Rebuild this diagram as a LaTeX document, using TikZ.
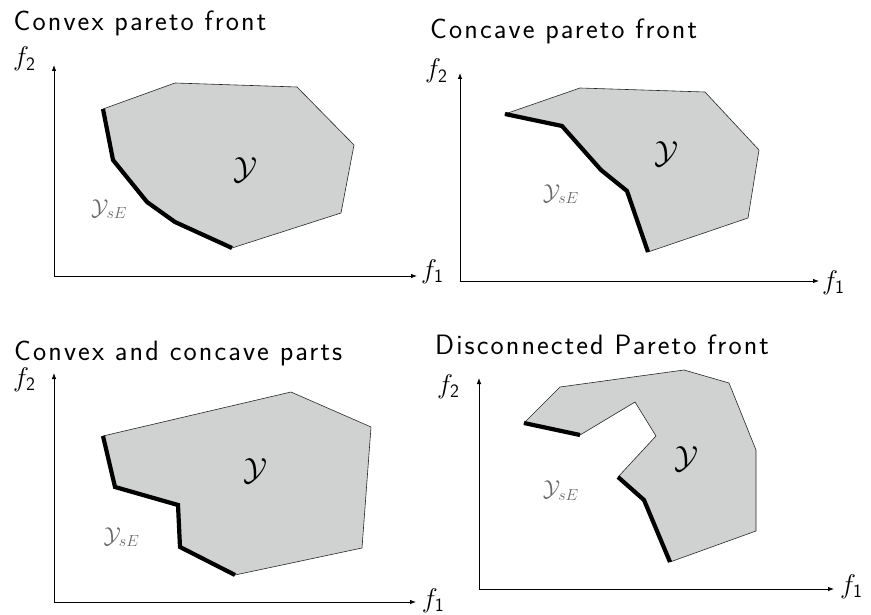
\RequirePackage{fix-cm}
\documentclass[tikz,border=0pt]{standalone}
\usepackage{fontspec}
\newfontfamily\titlefont{Latin Modern Sans}[LetterSpace=7.5]
\usetikzlibrary{arrows.meta}
\definecolor{regfill}{RGB}{208,210,210}
\definecolor{lblgray}{RGB}{105,105,105}
\tikzset{
  axisline/.style={line width=0.8pt, -{Latex[length=6pt,width=4.5pt]}},
  region/.style={fill=regfill, draw=black!85, line width=0.6pt, line join=miter},
  front/.style={line width=4.2pt, line join=miter, line cap=butt},
  ptitle/.style={anchor=base west, inner sep=0pt, font=\titlefont\fontsize{28}{30}\selectfont},
  axlabel/.style={anchor=base west, inner sep=0pt, font=\fontsize{27}{30}\selectfont},
  setlabel/.style={anchor=base, inner sep=0pt, font=\fontsize{32}{34}\selectfont},
  frontlabel/.style={anchor=base west, inner sep=0pt, text=lblgray, font=\fontsize{23}{25}\selectfont},
}
\begin{document}
\begin{tikzpicture}[x=1pt,y=-1pt]
\useasboundingbox (0,0) rectangle (871,615);

% ---------- Panel 1: convex ----------
\node[ptitle] (t1) at (13.5,30.7) {Convex pareto front};
\coordinate (o1) at (54,276);
\coordinate (y1) at (54,65);
\coordinate (x1) at (417,276);
\draw[axisline] (o1) -- (y1);
\draw[axisline] (o1) -- (x1);
\node[axlabel] (f21) at (13,66) {$f_{\mathsf{2}}$};
\node[axlabel] (f11) at (421,278) {$f_{\mathsf{1}}$};
\draw[region] (103,109) -- (175,83) -- (297,87) -- (354,145) -- (341,213) -- (232,248)
  -- (175,222) -- (147,202) -- (113,160) -- cycle;
\draw[front] (232,248) -- (175,222) -- (147,202) -- (113,160) -- (103,109);
\node[setlabel] (Y1) at (246,180) {$\mathcal{Y}$};
\node[frontlabel] (Ys1) at (91,215) {$\mathcal{Y}_{sE}$};

% ---------- Panel 2: concave ----------
\node[ptitle] (t2) at (430,38.3) {Concave pareto front};
\coordinate (o2) at (460,281);
\coordinate (y2) at (460,73);
\coordinate (x2) at (819,281);
\draw[axisline] (o2) -- (y2);
\draw[axisline] (o2) -- (x2);
\node[axlabel] (f22) at (425,78) {$f_{\mathsf{2}}$};
\node[axlabel] (f12) at (822,289) {$f_{\mathsf{1}}$};
\draw[region] (505,114) -- (580,88) -- (705,92) -- (759,150) -- (748,218) -- (648,252)
  -- (627,191) -- (601,170) -- (562,126) -- cycle;
\draw[front] (648,252) -- (627,191) -- (601,170) -- (562,126) -- (505,114);
\node[setlabel] (Y2) at (667,163.5) {$\mathcal{Y}$};
\node[frontlabel] (Ys2) at (542.7,200.3) {$\mathcal{Y}_{sE}$};

% ---------- Panel 3: convex and concave ----------
\node[ptitle] (t3) at (14,360.7) {Convex and concave parts};
\coordinate (o3) at (54,602);
\coordinate (y3) at (54,373);
\coordinate (x3) at (416,602);
\draw[axisline] (o3) -- (y3);
\draw[axisline] (o3) -- (x3);
\node[axlabel] (f23) at (13,386) {$f_{\mathsf{2}}$};
\node[axlabel] (f13) at (421.7,607) {$f_{\mathsf{1}}$};
\draw[region] (103,436) -- (291,392) -- (371,427) -- (362,548) -- (235,575)
  -- (180,547) -- (178,505) -- (115,487) -- cycle;
\draw[front] (235,575) -- (180,547) -- (178,505) -- (115,487) -- (103,436);
\node[setlabel] (Y3) at (256,480) {$\mathcal{Y}$};
\node[frontlabel] (Ys3) at (103.3,543) {$\mathcal{Y}_{sE}$};

% ---------- Panel 4: disconnected ----------
\node[ptitle] (t4) at (435,354.3) {Disconnected Pareto front};
\coordinate (o4) at (479,589);
\coordinate (y4) at (479,378);
\coordinate (x4) at (834,589);
\draw[axisline] (o4) -- (y4);
\draw[axisline] (o4) -- (x4);
\node[axlabel] (f24) at (437,393) {$f_{\mathsf{2}}$};
\node[axlabel] (f14) at (840,593.5) {$f_{\mathsf{1}}$};
\draw[region] (524,423) -- (560,387) -- (684,370) -- (729,383) -- (756,450) -- (756,531)
  -- (670,562) -- (644,500) -- (618,477) -- (656,436) -- (635,402) -- (580,435) -- cycle;
\draw[front] (670,562) -- (644,500) -- (618,477);
\draw[front] (580,435) -- (524,423);
\node[setlabel] (Y4) at (687,468) {$\mathcal{Y}$};
\node[frontlabel] (Ys4) at (542.7,496.6) {$\mathcal{Y}_{sE}$};
\end{tikzpicture}
\end{document}
